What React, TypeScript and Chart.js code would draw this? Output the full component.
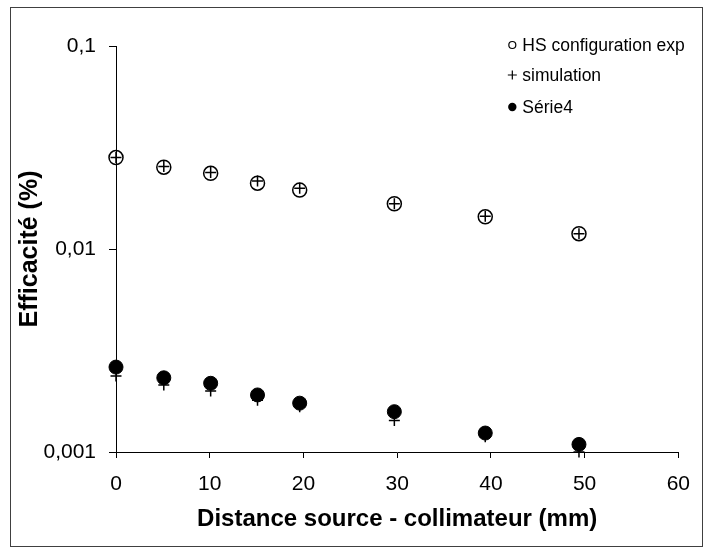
import React, { useEffect, useRef } from "react";
import { Chart, registerables } from "chart.js";

Chart.register(...registerables);

const distances = [0, 5.1, 10.1, 15.1, 19.6, 29.7, 39.4, 49.4];
const hsExp = [0.0282, 0.0253, 0.0236, 0.0211, 0.0195, 0.0167, 0.0144, 0.0119];
const simUpper = [0.0282, 0.0255, 0.0238, 0.0216, 0.0199, 0.0167, 0.0145, 0.0119];
const simLower = [0.00237, 0.00214, 0.002, 0.0018, 0.00167, 0.00143, 0.00119, 0.001];
const serie4 = [0.00262, 0.00232, 0.00218, 0.00191, 0.00174, 0.00158, 0.00124, 0.00109];
const yTicks = [0.001, 0.01, 0.1];
const yTickLabels = ["0,001", "0,01", "0,1"];
const xTitle = "Distance source - collimateur (mm)";
const yTitle = "Efficacité (%)";
const legendLabels = ["HS configuration exp", "simulation", "Série4"];

const FONT = "Arial, 'Liberation Sans', sans-serif";

const frameAndLegend = {
  id: "frameAndLegend",
  beforeDraw(chart: any) {
    const ctx = chart.ctx;
    ctx.save();
    ctx.fillStyle = "#fff";
    ctx.fillRect(0, 0, chart.width, chart.height);
    ctx.strokeStyle = "#404040";
    ctx.lineWidth = 1;
    ctx.strokeRect(10.5, 7.5, 692, 539);
    ctx.restore();
  },
  afterDraw(chart: any) {
    const ctx = chart.ctx;
    const area = chart.chartArea;
    const mx = area.right - 166;
    const tx = area.right - 156;
    const rows = [area.top - 1, area.top + 29, area.top + 61];
    ctx.save();
    ctx.strokeStyle = "#000";
    ctx.fillStyle = "#000";
    ctx.lineWidth = 1.2;
    ctx.beginPath();
    ctx.arc(mx, rows[0], 3.5, 0, Math.PI * 2);
    ctx.stroke();
    ctx.beginPath();
    ctx.moveTo(mx - 4.5, rows[1]);
    ctx.lineTo(mx + 4.5, rows[1]);
    ctx.moveTo(mx, rows[1] - 4.5);
    ctx.lineTo(mx, rows[1] + 4.5);
    ctx.stroke();
    ctx.beginPath();
    ctx.arc(mx, rows[2], 4.2, 0, Math.PI * 2);
    ctx.fill();
    ctx.font = `17.5px ${FONT}`;
    ctx.textBaseline = "middle";
    ctx.textAlign = "left";
    legendLabels.forEach((t, i) => ctx.fillText(t, tx, rows[i] + 1));
    ctx.restore();
  },
};

export default function App() {
  const ref = useRef<HTMLCanvasElement>(null);
  useEffect(() => {
    document.body.style.margin = "0";
    const canvas = ref.current!;
    const chart = new Chart(canvas, {
      type: "scatter",
      data: {
        datasets: [
          {
            label: legendLabels[0],
            data: distances.map((x, i) => ({ x, y: hsExp[i] })),
            pointStyle: "circle",
            pointRadius: 7,
            pointBackgroundColor: "rgba(0,0,0,0)",
            pointBorderColor: "#000",
            pointBorderWidth: 1.5,
            clip: false,
          },
          {
            label: legendLabels[1],
            data: [
              ...distances.map((x, i) => ({ x, y: simUpper[i] })),
              ...distances.map((x, i) => ({ x, y: simLower[i] })),
            ],
            pointStyle: "cross",
            pointRadius: 5.5,
            pointBorderColor: "#000",
            pointBorderWidth: 1.5,
            clip: false,
          },
          {
            label: legendLabels[2],
            data: distances.map((x, i) => ({ x, y: serie4[i] })),
            pointStyle: "circle",
            pointRadius: 7,
            pointBackgroundColor: "#000",
            pointBorderColor: "#000",
            pointBorderWidth: 1,
            clip: false,
          },
        ],
      } as any,
      options: {
        responsive: false,
        animation: false,
        devicePixelRatio: 1,
        layout: { padding: { top: 46, right: 25, left: 0, bottom: 0 } },
        plugins: { legend: { display: false }, tooltip: { enabled: false } },
        scales: {
          x: {
            type: "linear",
            min: 0,
            max: 60,
            afterFit: (s: any) => {
              s.height = 96;
            },
            ticks: {
              stepSize: 10,
              color: "#000",
              padding: 14,
              font: { family: FONT, size: 21 },
              maxRotation: 0,
            },
            grid: { drawOnChartArea: false, drawTicks: true, tickLength: 6, color: "#000" },
            border: { display: true, color: "#000", width: 1 },
            title: {
              display: true,
              text: xTitle,
              color: "#000",
              font: { family: FONT, size: 24, weight: "bold" },
              padding: { top: 0, bottom: 14 },
            },
          },
          y: {
            type: "logarithmic",
            min: 0.001,
            max: 0.1,
            afterFit: (s: any) => {
              s.width = 116;
            },
            afterBuildTicks: (s: any) => {
              s.ticks = yTicks.map((v) => ({ value: v, major: true }));
            },
            ticks: {
              color: "#000",
              padding: 13,
              font: { family: FONT, size: 21 },
              callback: (v: any) => {
                const i = yTicks.findIndex((t) => Math.abs(t - Number(v)) < 1e-9);
                return i >= 0 ? yTickLabels[i] : "";
              },
            },
            grid: { drawOnChartArea: false, drawTicks: true, tickLength: 7, color: "#000" },
            border: { display: true, color: "#000", width: 1 },
            title: {
              display: true,
              text: yTitle,
              color: "#000",
              font: { family: FONT, size: 25, weight: "bold" },
              padding: { top: 15, bottom: 0 },
            },
          },
        },
      } as any,
      plugins: [frameAndLegend],
    });
    return () => chart.destroy();
  }, []);
  return (
    <div style={{ width: 704, height: 548 }}>
      <canvas ref={ref} width={704} height={548} style={{ display: "block" }} />
    </div>
  );
}
